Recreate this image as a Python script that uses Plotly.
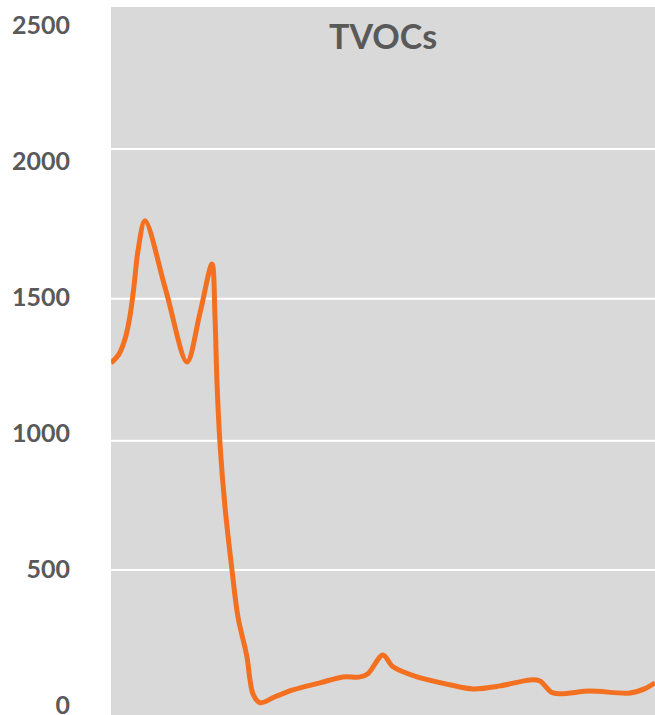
import plotly.graph_objects as go

# sample time (minutes) and TVOC concentration
minutes = [0, 8, 14, 19, 23, 27, 34, 55, 76, 89, 101, 104, 106, 109, 114, 121, 127,
           136, 139, 142, 149, 164, 182, 209, 232, 249, 257, 272, 282, 306, 339, 362,
           389, 419, 429, 442, 479, 519, 534, 544]
tvoc = [1257, 1290, 1345, 1430, 1540, 1670, 1780, 1522, 1261, 1441, 1621, 1426,
        1184, 960, 728, 496, 323, 176, 92, 40, 8, 30, 55, 81, 103, 103, 115, 184, 140,
        103, 74, 59, 70, 92, 88, 44, 51, 44, 60, 81]

y_ticks = [0, 500, 1000, 1500, 2000, 2500]
grid_levels = [496, 971, 1493, 2044]

GREY = "#595959"
fig = go.Figure()
fig.add_trace(go.Scatter(x=minutes, y=tvoc, mode="lines",
                         line=dict(color="#F37021", width=5, shape="spline", smoothing=0.9),
                         hoverinfo="skip"))
for g in grid_levels:
    fig.add_shape(type="line", xref="paper", yref="y", x0=0, x1=1, y0=g, y1=g,
                  line=dict(color="white", width=2), layer="below")

fig.add_annotation(text="<b>TVOCs</b>", xref="paper", yref="y", x=0.5, y=2463,
                   showarrow=False, yanchor="middle",
                   font=dict(family="Lato", size=34, color=GREY))

fig.update_layout(
    width=655, height=715,
    margin=dict(l=111, r=0, t=7, b=0, autoexpand=False),
    paper_bgcolor="white", plot_bgcolor="#D9D9D9",
    showlegend=False,
    xaxis=dict(range=[0, 544], visible=False, showgrid=False, zeroline=False, automargin=False),
    yaxis=dict(range=[-37, 2566], tickvals=y_ticks, showgrid=False, zeroline=False,
               automargin=False,
               ticks="", ticklabelstandoff=40, ticklabeloverflow="allow",
               tickfont=dict(family="Lato", size=25, color=GREY, weight="bold")),
)
fig.write_html("out.html", config={"displayModeBar": False},
               post_script="document.body.style.margin='0';document.body.style.overflow='hidden';")
